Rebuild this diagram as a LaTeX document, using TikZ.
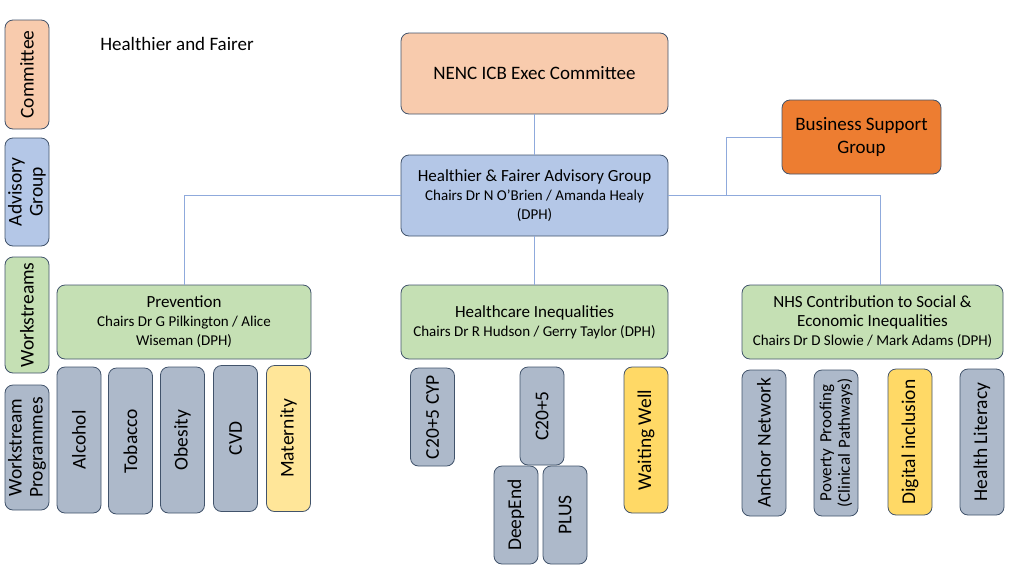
\documentclass[tikz,border=0pt]{standalone}
\usepackage{fontspec}
\setmainfont{Carlito}
\usetikzlibrary{positioning}
\definecolor{edgeblue}{HTML}{41536B}
\definecolor{linkblue}{HTML}{8FAADC}
\definecolor{peach}{HTML}{F8CBAD}
\definecolor{advblue}{HTML}{B4C7E7}
\definecolor{wsgreen}{HTML}{C5E0B4}
\definecolor{proggrey}{HTML}{ADB9CA}
\definecolor{bsorange}{HTML}{ED7D31}
\definecolor{paleyellow}{HTML}{FFE699}
\definecolor{gold}{HTML}{FFD966}
\newcommand{\fs}[2]{\fontsize{#1}{#2}\selectfont}
\newcommand{\chairs}{\fs{15}{18.5}}

\begin{document}
\begin{tikzpicture}[
      x=1pt,y=-1pt,
      box/.style={draw=edgeblue,rounded corners=8pt,line width=0.8pt,align=center,inner sep=2pt},
      hbox/.style={box,font=\fs{17}{19}},
      vbox/.style={box,rotate=90,minimum height=44pt,font=\fs{19.5}{21}},
      prog/.style={vbox,fill=proggrey},
      link/.style={draw=linkblue,line width=0.8pt},
    ]
    \useasboundingbox (0,0) rectangle (1024,576);
    % row labels on the left
    \node[vbox,fill=peach,minimum width=109pt] (lcom) at (27,74.5) {Committee};
    \node[vbox,fill=advblue,minimum width=108pt,text width=90pt] (ladv) at (27,192) {Advisory\\Group};
    \node[vbox,fill=wsgreen,minimum width=116pt] (lws) at (27,315) {Workstreams};
    \node[vbox,fill=proggrey,minimum width=125pt,text width=120pt] (lprog) at (27,447.5) {Workstream\\Programmes};
    \node[font=\fs{19}{22}] (title) at (177,44) {Healthier and Fairer};

    % top levels
    \node[hbox,fill=peach,minimum width=267pt,minimum height=81pt,font=\fs{19}{22}] (exec) at (534.5,73.5) {NENC ICB Exec Committee};
    \node[hbox,fill=advblue,minimum width=267pt,minimum height=81pt] (adv) at (534.5,195.5)
      {Healthier \& Fairer Advisory Group\\{\chairs Chairs Dr N O’Brien / Amanda Healy}\\{\chairs (DPH)}};
    \node[hbox,fill=bsorange,minimum width=159pt,minimum height=74pt,font=\fs{19}{23}] (bsg) at (861.5,137) {Business Support\\Group};

    % workstreams
    \node[hbox,fill=wsgreen,minimum width=254pt,minimum height=74pt] (prev) at (184,322)
      {Prevention\\{\chairs Chairs Dr G Pilkington / Alice}\\{\chairs Wiseman (DPH)}};
    \node[hbox,fill=wsgreen,minimum width=267pt,minimum height=74pt] (hci) at (534.5,322)
      {Healthcare Inequalities\\{\chairs Chairs Dr R Hudson / Gerry Taylor (DPH)}};
    \node[hbox,fill=wsgreen,minimum width=261pt,minimum height=74pt] (nhs) at (872.5,322)
      {NHS Contribution to Social \&\\Economic Inequalities\\{\chairs Chairs Dr D Slowie / Mark Adams (DPH)}};

    % programmes under prevention
    \node[prog,minimum width=146pt] (alc) at (79,440) {Alcohol};
    \node[prog,minimum width=146pt] (tob) at (130.5,441) {Tobacco};
    \node[prog,minimum width=146pt] (obe) at (182.5,440) {Obesity};
    \node[prog,minimum width=146pt] (cvd) at (235.5,438.5) {CVD};
    \node[vbox,fill=paleyellow,minimum width=146pt] (mat) at (288.5,438.5) {Maternity};

    % programmes under healthcare inequalities
    \node[prog,minimum width=98pt] (cyp) at (432.5,417) {C20+5 CYP};
    \node[prog,minimum width=98pt] (c205) at (542,416) {C20+5};
    \node[prog,minimum width=98pt] (deep) at (516,515) {DeepEnd};
    \node[prog,minimum width=98pt] (plus) at (565,515) {PLUS};
    \node[vbox,fill=gold,minimum width=146pt] (wait) at (646,440) {Waiting Well};

    % programmes under social & economic inequalities
    \node[prog,minimum width=146pt] (anch) at (764,443) {Anchor Network};
    \node[prog,minimum width=146pt,font=\fs{17}{18.5},text width=140pt] (pov) at (836,443) {Poverty Proofing\\(Clinical Pathways)};
    \node[vbox,fill=gold,minimum width=146pt] (dig) at (910,442) {Digital inclusion};
    \node[prog,minimum width=146pt] (lit) at (982,442) {Health Literacy};

    % connectors
    \draw[link] (exec)--(adv);
    \draw[link] (adv)--(hci);
    \draw[link] (adv.west)-|(prev.north);
    \coordinate (nhsj) at (880,285);
    \draw[link] (adv.east)-|(nhsj);
    \coordinate (bsj) at (726,195.5);
    \draw[link] (bsj)|-(bsg.west);
  \end{tikzpicture}
\end{document}
